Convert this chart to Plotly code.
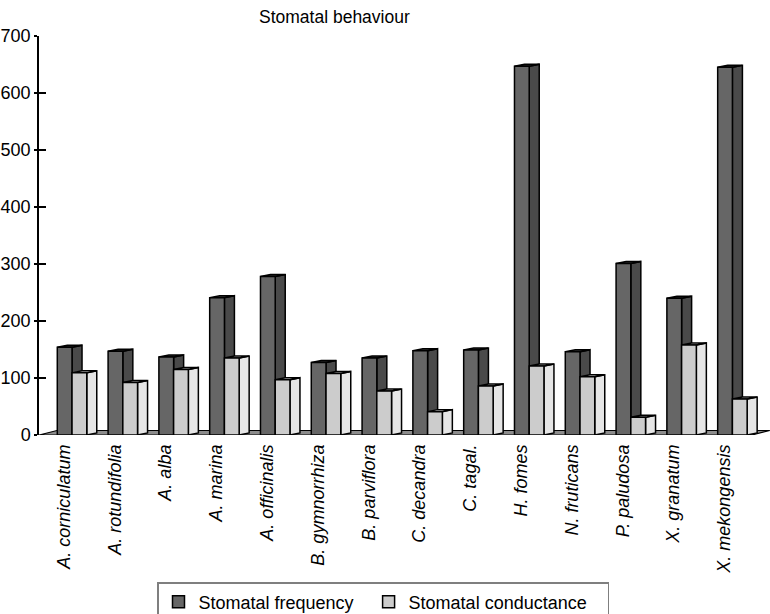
import plotly.graph_objects as go

# Species (x categories)
species = ["A. corniculatum", "A. rotundifolia", "A. alba", "A. marina",
           "A. officinalis", "B. gymnorrhiza", "B. parviflora", "C. decandra",
           "C. tagal.", "H. fomes", "N. fruticans", "P. paludosa",
           "X. granatum", "X. mekongensis"]

# Series values
stomatal_frequency = [154, 147, 137, 241, 278, 127, 135, 148, 149, 647, 146, 301, 240, 645]
stomatal_conductance = [109, 92, 115, 135, 97, 108, 77, 41, 86, 121, 102, 31, 158, 63]

y_ticks = [0, 100, 200, 300, 400, 500, 600, 700]

FONT = "Liberation Sans, Arial, sans-serif"
NBSP = "\u00a0"

# pseudo-3D geometry (x in category units, y in value units)
BAR_W = 0.29
DEPTH_X = 0.197
DEPTH_Y = 3.5
FREQ_OFF = -0.132
COND_OFF = FREQ_OFF + BAR_W
X_MIN, X_MAX = -0.492, 13.898
FLOOR_DX, FLOOR_DY = 0.354, 7.9
FLOOR_RIGHT = 13.54

pos = list(range(len(species)))

fig = go.Figure()
fig.add_bar(x=pos, y=stomatal_frequency, base=0, offset=FREQ_OFF, width=BAR_W,
            name="Stomatal frequency" + NBSP * 2,
            marker=dict(color="#666666", line=dict(color="black", width=1.5)))
fig.add_bar(x=pos, y=stomatal_conductance, base=0, offset=COND_OFF, width=BAR_W,
            name="Stomatal conductance" + NBSP * 3,
            marker=dict(color="#cccccc", line=dict(color="black", width=1.5)))
# carrier trace for the secondary (inside-tick) y axis
fig.add_scatter(x=[0], y=[0], yaxis="y2", mode="markers",
                marker=dict(opacity=0), showlegend=False, hoverinfo="skip")

shapes = []
# floor
shapes.append(dict(
    type="path", xref="x", yref="y", layer="below",
    path=(f"M {X_MIN},0 L {FLOOR_RIGHT},0 L {FLOOR_RIGHT + FLOOR_DX},{FLOOR_DY} "
          f"L {X_MIN + FLOOR_DX},{FLOOR_DY} Z"),
    fillcolor="#8c8c8c", line=dict(color="black", width=1.2)))


def prism_faces(x0, v, side_color, top_color):
    x1 = x0 + BAR_W
    side = (f"M {x1},0 L {x1 + DEPTH_X},{DEPTH_Y} L {x1 + DEPTH_X},{v + DEPTH_Y} "
            f"L {x1},{v} Z")
    top = (f"M {x0},{v} L {x0 + DEPTH_X},{v + DEPTH_Y} L {x1 + DEPTH_X},{v + DEPTH_Y} "
           f"L {x1},{v} Z")
    return [
        dict(type="path", xref="x", yref="y", layer="below", path=side,
             fillcolor=side_color, line=dict(color="black", width=1.5)),
        dict(type="path", xref="x", yref="y", layer="below", path=top,
             fillcolor=top_color, line=dict(color="black", width=1.5)),
    ]


for i, (f, c) in enumerate(zip(stomatal_frequency, stomatal_conductance)):
    shapes += prism_faces(i + FREQ_OFF, f, "#4a4a4a", "#3a3a3a")
    shapes += prism_faces(i + COND_OFF, c, "#e6e6e6", "#d9d9d9")

fig.update_layout(
    width=770, height=614, autosize=False,
    margin=dict(l=39, r=0, t=36, b=179, pad=0, autoexpand=False),
    paper_bgcolor="white", plot_bgcolor="white",
    font=dict(family=FONT, color="black"),
    barmode="overlay",
    shapes=shapes,
    xaxis=dict(range=[X_MIN, X_MAX], tickmode="array", tickvals=pos,
               ticktext=[f"<i>{s}</i>" for s in species], tickangle=-90,
               showline=False, ticks="", showgrid=False, zeroline=False,
               ticklabelstandoff=5,
               tickfont=dict(family=FONT, size=18, color="black")),
    yaxis=dict(range=[0, 700], tickmode="array", tickvals=y_ticks,
               showline=True, linecolor="black", linewidth=1.5,
               ticks="outside", ticklen=3, tickwidth=1.5, tickcolor="black",
               showgrid=False, zeroline=False,
               tickfont=dict(family=FONT, size=18, color="black")),
    yaxis2=dict(range=[0, 700], overlaying="y", anchor="x", side="left",
                tickmode="array", tickvals=y_ticks, showticklabels=False,
                ticks="inside", ticklen=7, tickwidth=1.5, tickcolor="black",
                showline=False, showgrid=False, zeroline=False),
    legend=dict(orientation="h", xref="container", yref="container",
                x=157 / 770, y=(614 - 582) / 614, xanchor="left", yanchor="top",
                bordercolor="#7f7f7f", borderwidth=1.5, bgcolor="white",
                font=dict(family=FONT, size=18, color="black"),
                traceorder="normal"),
    annotations=[dict(text="Stomatal behaviour", xref="paper", yref="paper",
                      x=(257 - 39) / 731, y=(435 - 17.5) / 399,
                      xanchor="left", yanchor="middle", showarrow=False,
                      font=dict(family=FONT, size=17.5, color="black"))],
)

fig.write_html("out.html")
